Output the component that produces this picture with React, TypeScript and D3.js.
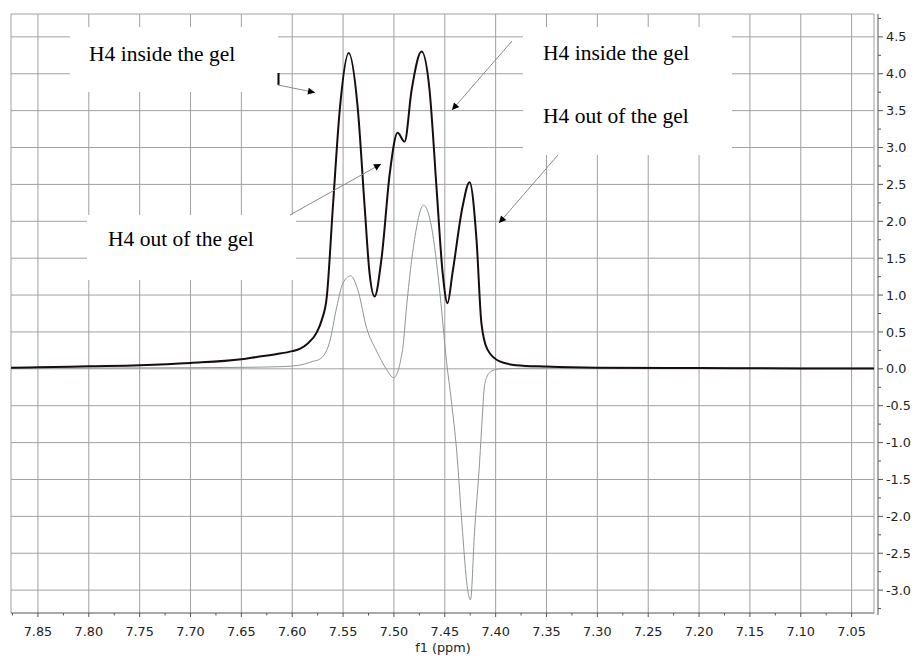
import React from "react";
import * as d3 from "d3";

// ---- data ----
const insidePpm = [7.8765, 7.85, 7.8, 7.75, 7.7, 7.65, 7.635, 7.615, 7.6, 7.5926, 7.585, 7.576, 7.571, 7.566, 7.56, 7.553, 7.5445, 7.5357, 7.5288, 7.524, 7.519, 7.512, 7.504, 7.4964, 7.4895, 7.4826, 7.4728, 7.465, 7.458, 7.4521, 7.4473, 7.4424, 7.4325, 7.4257, 7.4188, 7.414, 7.408, 7.396, 7.38, 7.35, 7.3, 7.2, 7.1, 7.028];
const insideVal = [0.015, 0.02, 0.035, 0.05, 0.08, 0.13, 0.16, 0.2, 0.24, 0.27, 0.34, 0.49, 0.66, 0.98, 2.2, 3.55, 4.28, 3.55, 2.2, 1.3, 0.98, 1.52, 2.66, 3.2, 3.08, 3.78, 4.3, 3.78, 2.43, 1.3, 0.89, 1.3, 2.2, 2.53, 1.75, 0.62, 0.26, 0.1, 0.05, 0.03, 0.015, 0.01, 0.005, 0.005];

const outsidePpm = [7.8765, 7.8, 7.7, 7.65, 7.61, 7.5926, 7.58, 7.573, 7.5633, 7.5562, 7.5502, 7.5425, 7.5357, 7.5268, 7.517, 7.5072, 7.5003, 7.4915, 7.4876, 7.4798, 7.4708, 7.463, 7.4551, 7.4483, 7.4434, 7.4384, 7.4325, 7.428, 7.4247, 7.4208, 7.4158, 7.4129, 7.4115, 7.409, 7.405, 7.4, 7.3962, 7.35, 7.2, 7.028];
const outsideVal = [0.01, 0.01, 0.015, 0.02, 0.03, 0.05, 0.1, 0.13, 0.36, 0.84, 1.16, 1.26, 1.08, 0.55, 0.24, -0.01, -0.12, 0.26, 0.84, 1.75, 2.22, 1.92, 1.07, 0.1, -0.45, -1.1, -2.22, -2.95, -3.13, -2.22, -1.27, -0.6, -0.3, -0.12, -0.04, -0.01, 0.0, 0.01, 0.01, 0.01];

const xTicks = [7.85, 7.8, 7.75, 7.7, 7.65, 7.6, 7.55, 7.5, 7.45, 7.4, 7.35, 7.3, 7.25, 7.2, 7.15, 7.1, 7.05];
const xMinor = [7.875, 7.825, 7.775, 7.725, 7.675, 7.625, 7.575, 7.525, 7.475, 7.425, 7.375, 7.325, 7.275, 7.225, 7.175, 7.125, 7.075];
const yTicks = [4.5, 4.0, 3.5, 3.0, 2.5, 2.0, 1.5, 1.0, 0.5, 0.0, -0.5, -1.0, -1.5, -2.0, -2.5, -3.0];
const yMinor = [4.75, 4.25, 3.75, 3.25, 2.75, 2.25, 1.75, 1.25, 0.75, 0.25, -0.25, -0.75, -1.25, -1.75, -2.25, -2.75, -3.25];

const xTitle = "f1 (ppm)";
const labelInside = "H4 inside the gel";
const labelOutside = "H4 out of the gel";

export default function App() {
  const W = 917, H = 658;
  const L = 11, R = 874, T = 14, B = 613;
  const x = d3.scaleLinear().domain([7.8765, 7.028]).range([L, R]);
  const y = d3.scaleLinear().domain([-3.31, 4.81]).range([B, T]);

  const line = d3.line<[number, number]>()
    .x(d => x(d[0]))
    .y(d => y(d[1]))
    .curve(d3.curveMonotoneX);

  const inside = line(insidePpm.map((p, i) => [p, insideVal[i]]) as [number, number][]) || "";
  const outside = line(outsidePpm.map((p, i) => [p, outsideVal[i]]) as [number, number][]) || "";

  const gridColor = "#a0a0a0";
  const serif = "'Liberation Serif', 'Times New Roman', serif";
  const sans = "'DejaVu Sans', Verdana, sans-serif";

  const boxes = [
    { x0: 70, y0: 27, x1: 278, y1: 92 },
    { x0: 523, y0: 27, x1: 732, y1: 155 },
    { x0: 87, y0: 215, x1: 296, y1: 280 },
  ];
  const arrows = [
    { x1: 278, y1: 85, x2: 315, y2: 92.5 },
    { x1: 512, y1: 41, x2: 452, y2: 110 },
    { x1: 290, y1: 215, x2: 381, y2: 164 },
    { x1: 558, y1: 155, x2: 499, y2: 223 },
  ];

  return (
    <svg width={W} height={H} style={{ position: "absolute", left: 0, top: 0, background: "#fff" }}>
      <defs>
        <marker id="ah" viewBox="0 0 10 10" refX="10" refY="5" markerWidth="10" markerHeight="7" markerUnits="userSpaceOnUse" orient="auto">
          <path d="M0,0 L10,5 L0,10 z" fill="#000" />
        </marker>
      </defs>
      <rect x={0} y={0} width={W} height={H} fill="#fff" />
      {/* grid */}
      {xTicks.map(t => (
        <line key={"gx" + t} x1={x(t)} x2={x(t)} y1={T} y2={B} stroke={gridColor} strokeWidth={1} />
      ))}
      {yTicks.map(t => (
        <line key={"gy" + t} x1={L} x2={R} y1={y(t)} y2={y(t)} stroke={gridColor} strokeWidth={1} />
      ))}
      <line x1={L} x2={R} y1={T} y2={T} stroke={gridColor} />
      <line x1={L} x2={L} y1={T} y2={B} stroke={gridColor} />
      <line x1={R} x2={R} y1={T} y2={B} stroke={gridColor} />
      {/* label boxes */}
      {boxes.map((b, i) => (
        <rect key={"b" + i} x={b.x0} y={b.y0} width={b.x1 - b.x0} height={b.y1 - b.y0} fill="#fff" />
      ))}
      {/* spectra */}
      <path d={outside} fill="none" stroke="#8e9696" strokeWidth={1} />
      <path d={inside} fill="none" stroke="#160d0d" strokeWidth={2} />
      {/* arrows */}
      <line x1={278.5} x2={278.5} y1={73} y2={85} stroke="#000" strokeWidth={2} />
      {arrows.map((a, i) => (
        <line key={"a" + i} x1={a.x1} y1={a.y1} x2={a.x2} y2={a.y2} stroke="#8a8a8a" strokeWidth={1} markerEnd="url(#ah)" />
      ))}
      {/* texts */}
      <g fontFamily={serif} fontSize={21.5} fill="#000">
        <text x={89} y={61}>{labelInside}</text>
        <text x={543} y={60}>{labelInside}</text>
        <text x={543} y={123}>{labelOutside}</text>
        <text x={108} y={246}>{labelOutside}</text>
      </g>
      {/* bottom axis */}
      <line x1={L} x2={R} y1={B} y2={B} stroke="#555" strokeWidth={1} />
      {xTicks.map(t => (
        <line key={"tx" + t} x1={x(t)} x2={x(t)} y1={B} y2={B + 4} stroke="#555" />
      ))}
      {xMinor.filter(t => t <= 7.8765 && t >= 7.028).map(t => (
        <line key={"mx" + t} x1={x(t)} x2={x(t)} y1={B} y2={B + 2.5} stroke="#555" />
      ))}
      <g fontFamily={sans} fontSize={12.8} fill="#222" textAnchor="middle">
        {xTicks.map(t => (
          <text key={"lx" + t} x={x(t)} y={636}>{t.toFixed(2)}</text>
        ))}
        <text x={443} y={652}>{xTitle}</text>
      </g>
      {/* right axis */}
      <line x1={878} x2={878} y1={T} y2={B + 2} stroke="#555" strokeWidth={1} />
      {yTicks.map(t => (
        <line key={"ty" + t} x1={878} x2={883} y1={y(t)} y2={y(t)} stroke="#555" />
      ))}
      {yMinor.map(t => (
        <line key={"my" + t} x1={878} x2={881} y1={y(t)} y2={y(t)} stroke="#555" />
      ))}
      <g fontFamily={sans} fontSize={12.8} fill="#222">
        {yTicks.map(t => (
          <text key={"ly" + t} x={886} y={y(t)} dy="0.36em">{t.toFixed(1)}</text>
        ))}
      </g>
    </svg>
  );
}
